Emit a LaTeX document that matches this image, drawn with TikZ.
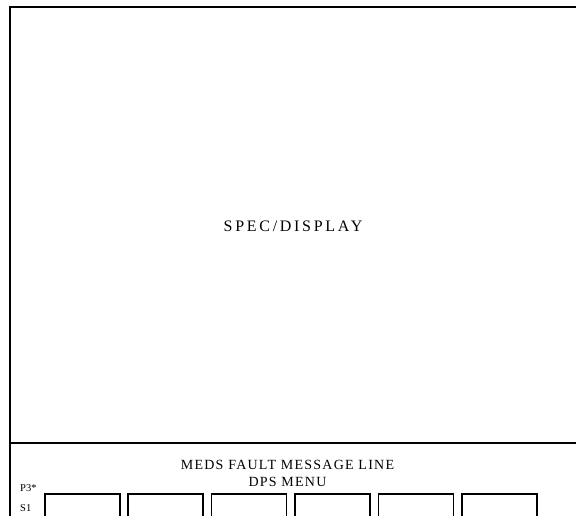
\documentclass[tikz,border=0pt]{standalone}
\usepackage{fontspec}
\setmainfont{Liberation Serif}
\begin{document}
\begin{tikzpicture}[x=1pt,y=-1pt,
  frame/.style={draw=black,line width=1.6pt},
  softkey/.style={draw=black,line width=1.6pt,minimum width=75pt,minimum height=40pt,inner sep=0pt,anchor=north west},
  lbl/.style={inner sep=0pt,font=\fontsize{14}{14}\selectfont\addfontfeatures{LetterSpace=9}},
  small/.style={inner sep=0pt,font=\fontsize{10.5}{10.5}\selectfont},
]
\useasboundingbox (0,0) rectangle (576,516);
\clip (0,0) rectangle (576,516);
\draw[frame] (10,7) rectangle (620,560);
\draw[frame] (10,443) -- (620,443);
\node[inner sep=0pt,font=\fontsize{16}{16}\selectfont\addfontfeatures{LetterSpace=17}] (spec) at (293,226) {SPEC/DISPLAY};
\node[lbl] (meds) at (287.5,465) {MEDS FAULT MESSAGE LINE};
\node[lbl] (dps) at (287.5,482) {DPS MENU};
\node[small,anchor=west] (p3) at (20,488) {P3*};
\node[small,anchor=west] (s1) at (20,508) {S1};
\foreach \i in {0,...,5} {
  \node[softkey] (key\i) at ({44+83.4*\i},493) {};
}
\end{tikzpicture}
\end{document}
